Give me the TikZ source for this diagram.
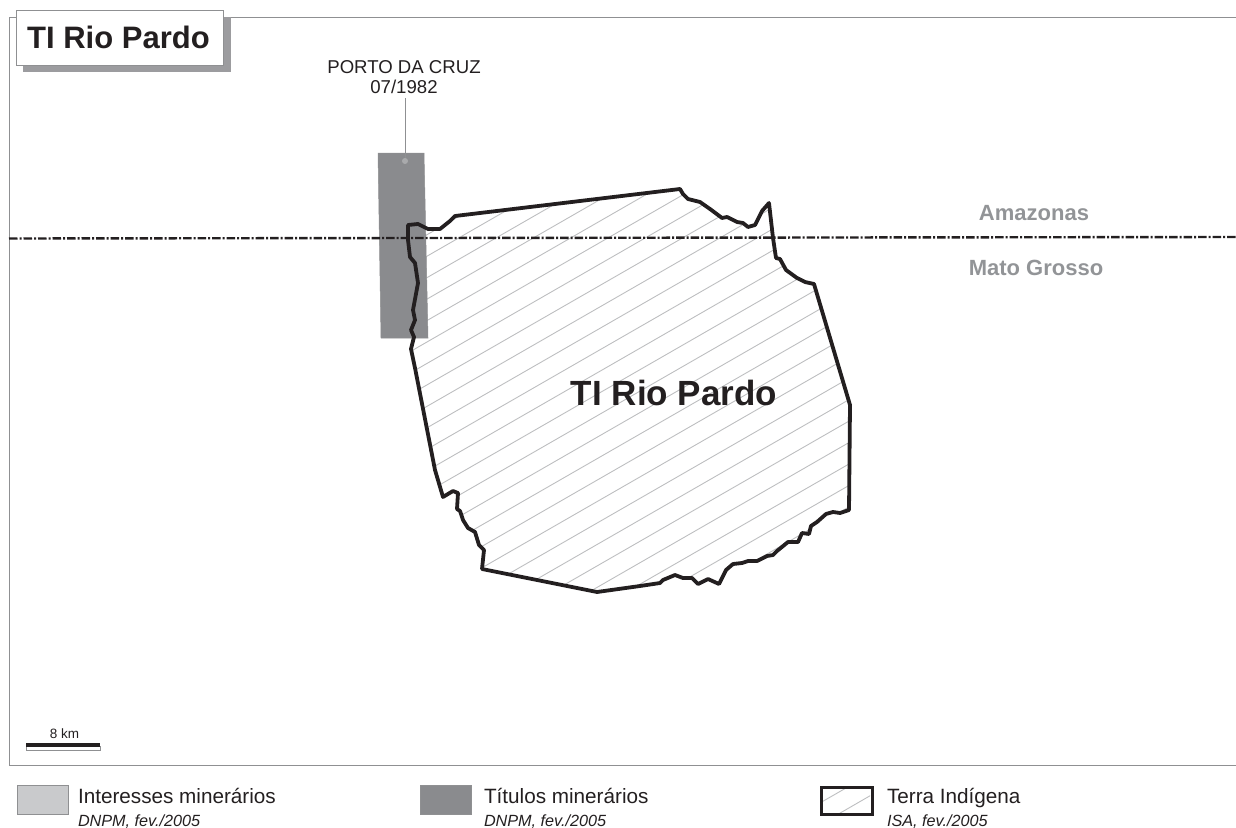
\documentclass[tikz,border=0pt]{standalone}
\usepackage{fontspec}
\setmainfont{Liberation Sans}
\definecolor{framegray}{HTML}{8F9092}
\definecolor{titledark}{HTML}{231F20}
\definecolor{minegray}{HTML}{8A8B8E}
\definecolor{interestgray}{HTML}{C9CACC}
\definecolor{hatchgray}{HTML}{BDBEC0}
\definecolor{dotgray}{HTML}{A9AAAC}
\definecolor{statelabel}{HTML}{929497}
\newcommand{\fs}[1]{\fontsize{#1}{#1}\selectfont}
\tikzset{
  framerule/.style={draw=framegray,line width=1pt},
  hatchrule/.style={draw=hatchgray,line width=0.9pt},
  boundary/.style={draw=titledark,line width=3.8pt,line join=round},
  statebound/.style={draw=titledark,line width=2.4pt,dash pattern=on 8.5pt off 2.2pt on 2pt off 1.8pt},
  txt/.style={anchor=base west,inner sep=0pt,outer sep=0pt,text=titledark},
  statetxt/.style={anchor=base,inner sep=0pt,text=statelabel,font=\fs{22}\bfseries},
  legmain/.style={txt,font=\fs{20.7}},
  legsub/.style={txt,font=\fs{16.2}\itshape},
}
\begin{document}
\begin{tikzpicture}[x=1pt,y=-1pt]
\useasboundingbox (0,0) rectangle (1236,827);
% frame
\draw[framerule] (1236,17) -- (9,17) -- (9,765) -- (1236,765);
% hatch, clipped to the territory
\def\outline{(455,216) -- (680,189) -- (683,194) -- (688,199) -- (700,202) -- (710,209) -- (722,218) -- (727,217) -- (737,222) -- (743,223) -- (748,227) -- (755,225) -- (762,211) -- (769,203) -- (773,238) -- (776,258) -- (780,259) -- (786,270) -- (797,278) -- (805,282) -- (814,284) -- (850,405) -- (849,510) -- (840,513) -- (833,512) -- (826,514) -- (817,522) -- (811,526) -- (809,534) -- (802,533) -- (798,542) -- (788,542) -- (777,551) -- (773,555) -- (767,556) -- (757,561) -- (748,561) -- (742,563) -- (733,564) -- (726,570) -- (719,584) -- (708,579) -- (698,584) -- (692,578) -- (683,578) -- (675,575) -- (663,580) -- (660,583) -- (640,586) -- (597,592) -- (482,569) -- (484,550) -- (479,545) -- (475,532) -- (468,528) -- (463,520) -- (460,511) -- (457,509) -- (458,493) -- (453,491) -- (443,497) -- (435,470) -- (415,368) -- (411,349) -- (414,337) -- (411,330) -- (415,320) -- (413,310) -- (418,283) -- (415,263) -- (410,257) -- (408,240) -- (408,225) -- (418,224) -- (428,229) -- (440,229) -- (450,221) -- cycle}
\begin{scope}
\clip \outline;
\foreach \k in {-3,...,24}{
  \pgfmathsetmacro{\ca}{501.7+21.45*\k-0.575*400}
  \pgfmathsetmacro{\cb}{501.7+21.45*\k-0.575*860}
  \draw[hatchrule] (400,\ca) -- (860,\cb);
}
\end{scope}
% mining title
\fill[minegray,draw=framegray,line width=0.5pt] (378,153) -- (424,153) -- (428,338) -- (381,338) -- cycle;
% state boundary
\draw[statebound] (9,238.5) -- (1236,237);
% territory outline
\draw[boundary] \outline;
% mining title label and leader
\node[anchor=base,inner sep=0pt,align=center,text=titledark,font=\fs{18.6}] (porto) at (404,73) {PORTO DA CRUZ};
\node[anchor=base,inner sep=0pt,text=titledark,font=\fs{18.6}] (portodate) at (404,93) {07/1982};
\coordinate (dot) at (405,161);
\draw[draw=framegray,line width=0.9pt] (portodate.south -| dot) ++(0,5) -- (dot);
\fill[dotgray] (dot) circle[radius=3pt];
% labels
\node[anchor=base,inner sep=0pt,text=titledark,font=\fs{35}\bfseries] (central) at (674,405) {TI Rio Pardo};
\node[statetxt] (am) at (1034,220) {Amazonas};
\node[statetxt] (mt) at (1036,275) {Mato Grosso};
% title box
\fill[minegray!85!white] (23,17) rectangle (231,72);
\node[draw=framegray,line width=0.8pt,fill=white,minimum width=207pt,minimum height=55pt,inner sep=0pt,anchor=north west] (titlebox) at (16,10) {};
\node[anchor=base,inner sep=0pt,text=titledark,font=\fs{31}\bfseries] (titletext) at (118.5,48) {TI Rio Pardo};
% scale bar
\node[anchor=base,inner sep=0pt,text=titledark,font=\fs{13.5}] (scale) at (64.5,738) {8 km};
\fill[white,draw=framegray,line width=0.6pt] (26,746) rectangle (100,750.5);
\fill[titledark] (26,743) rectangle (100,747);
% legend
\node[draw=framegray,line width=0.9pt,fill=interestgray,minimum width=51pt,minimum height=29pt,inner sep=0pt,anchor=north west] (leg1) at (17,785) {};
\node[legmain] (leg1a) at (78,803) {Interesses minerários};
\node[legsub] (leg1b) at (78,826) {DNPM, fev./2005};
\node[draw=framegray,line width=0.9pt,fill=minegray,minimum width=51pt,minimum height=29pt,inner sep=0pt,anchor=north west] (leg2) at (420,785) {};
\node[legmain] (leg2a) at (484,803) {Títulos minerários};
\node[legsub] (leg2b) at (484,826) {DNPM, fev./2005};
\begin{scope}
\clip (821,787) rectangle (870,812);
\draw[hatchrule] (812,807.5) -- (860,780);
\draw[hatchrule] (835,816) -- (880,790);
\end{scope}
\node[draw=titledark,line width=3.4pt,minimum width=51pt,minimum height=27pt,inner sep=0pt,anchor=north west] (leg3) at (819.5,785.5) {};
\node[legmain] (leg3a) at (887,803) {Terra Indígena};
\node[legsub] (leg3b) at (887,826) {ISA, fev./2005};
\end{tikzpicture}
\end{document}
